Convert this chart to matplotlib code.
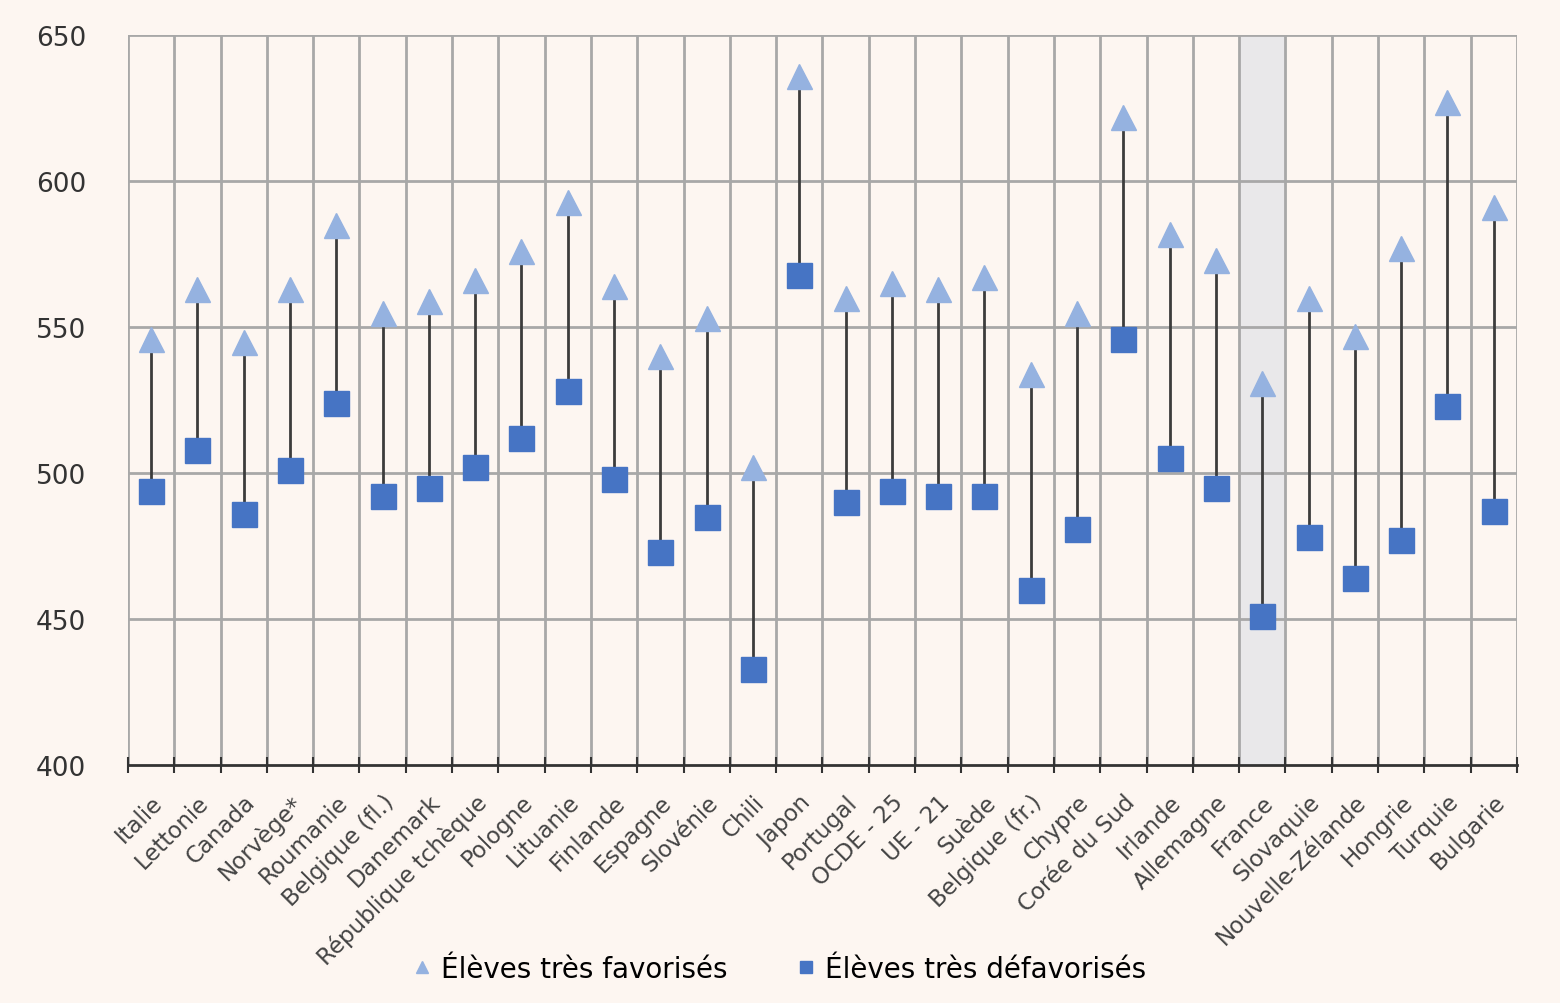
import matplotlib
matplotlib.use("Agg")
import matplotlib.pyplot as plt
import numpy as np

countries = [
    "Italie", "Lettonie", "Canada", "Norvège*", "Roumanie", "Belgique (fl.)",
    "Danemark", "République tchèque", "Pologne", "Lituanie", "Finlande",
    "Espagne", "Slovénie", "Chili", "Japon", "Portugal", "OCDE - 25",
    "UE - 21", "Suède", "Belgique (fr.)", "Chypre", "Corée du Sud",
    "Irlande", "Allemagne", "France", "Slovaquie", "Nouvelle-Zélande",
    "Hongrie", "Turquie", "Bulgarie",
]
favorises = [546, 563, 545, 563, 585, 555, 559, 566, 576, 593, 564, 540, 553,
             502, 636, 560, 565, 563, 567, 534, 555, 622, 582, 573, 531, 560,
             547, 577, 627, 591]
defavorises = [494, 508, 486, 501, 524, 492, 495, 502, 512, 528, 498, 473, 485,
               433, 568, 490, 494, 492, 492, 460, 481, 546, 505, 495, 451, 478,
               464, 477, 523, 487]
highlight = "France"

bg = "#fdf6f1"
fig = plt.figure(figsize=(15.6, 10.04), dpi=100, facecolor=bg)
ax = fig.add_axes([0.082, 0.237, 0.8904, 0.727], facecolor=bg)

x = np.arange(len(countries))
hi = countries.index(highlight)
ax.axvspan(hi - 0.5, hi + 0.5, color="#e9e8ea", zorder=0)

# grid: horizontal at values, vertical at column boundaries
for y in [450, 500, 550, 600, 650]:
    ax.axhline(y, color="#a8a8a8", lw=2, zorder=1)
for b in np.arange(-0.5, len(countries) + 0.5, 1):
    ax.axvline(b, color="#a8a8a8", lw=2, zorder=1)

ax.vlines(x, defavorises, favorises, color="#3c3c3c", lw=2, zorder=2)
ax.plot(x, favorises, ls="none", marker="^", ms=18, color="#95b2e0",
        zorder=3, label="Élèves très favorisés")
ax.plot(x, defavorises, ls="none", marker="s", ms=18, color="#4674c4",
        zorder=3, label="Élèves très défavorisés")

ax.set_xlim(-0.5, len(countries) - 0.5)
ax.set_ylim(400, 650)
ax.set_yticks([400, 450, 500, 550, 600, 650])
ax.tick_params(axis="y", length=0, labelsize=19, labelcolor="#333333", pad=30)

ax.set_xticks(x)
ax.set_xticklabels(countries, rotation=45, ha="right", rotation_mode="anchor",
                   fontsize=16.5, color="#444444")
ax.tick_params(axis="x", which="major", length=0, pad=18)
ax.set_xticks(np.arange(-0.5, len(countries) + 0.5, 1), minor=True)
ax.tick_params(axis="x", which="minor", direction="inout", length=12,
               width=1.5, color="#333333")

for side in ["top", "right", "left"]:
    ax.spines[side].set_visible(False)
ax.spines["bottom"].set_color("#333333")
ax.spines["bottom"].set_linewidth(2)

fig.legend(loc="lower center", bbox_to_anchor=(0.5, -0.005), ncol=2,
           frameon=False, fontsize=20, markerscale=0.45, handlelength=0.6,
           handletextpad=0.4, columnspacing=2.5)

fig.savefig("out.png", dpi=100, facecolor=bg)
